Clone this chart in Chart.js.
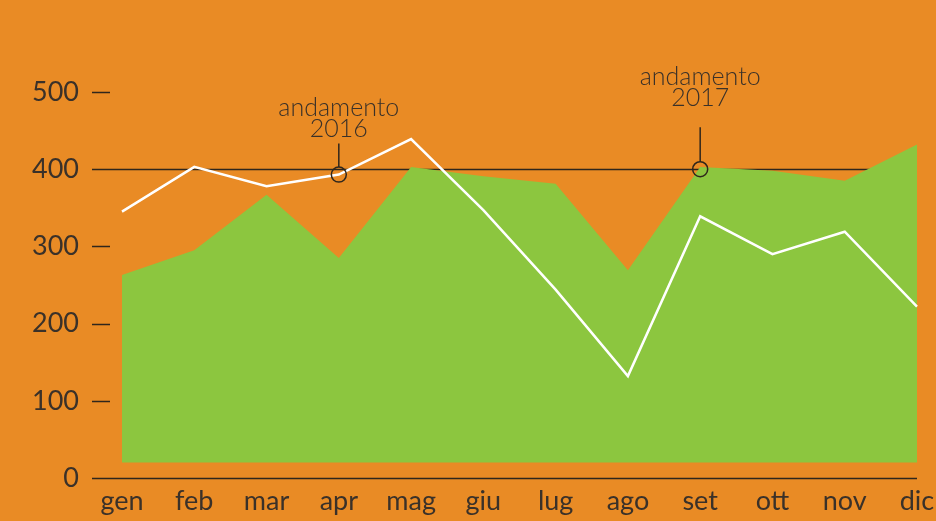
<!DOCTYPE html>
<html>
<head>
<meta charset="utf-8">
<script src="https://cdn.jsdelivr.net/npm/chart.js@4/dist/chart.umd.min.js"></script>
<style>
  html, body { margin: 0; padding: 0; background: #e98b25; }
  #wrap { width: 936px; height: 521px; }
</style>
</head>
<body>
<div id="wrap"><canvas id="andamentoChart" width="936" height="521"></canvas></div>
<script>
const months = ['gen', 'feb', 'mar', 'apr', 'mag', 'giu', 'lug', 'ago', 'set', 'ott', 'nov', 'dic'];
const values2017 = [263, 295, 367, 285, 403, 391, 381, 269, 403, 398, 385, 432];
const values2016 = [345, 403, 378, 393, 439, 347, 244, 132, 339, 290, 319, 222];
const yTicks = [0, 100, 200, 300, 400, 500];
const areaBase = 20;
const refLines = [0, 400];

const ink = '#2f261c';
const textColor = '#3a3129';
const fontFamily = 'Lato, "Open Sans", sans-serif';

// notes pinned to a point of the chart
const notes = [
    { lines: ['andamento', '2016'], month: 'apr', value: () => values2016[3], textUp: 38, stemUp: 31 },
    { lines: ['andamento', '2017'], month: 'set', value: () => 400, textUp: 63, stemUp: 42 }
];

const axisLines = {
    id: 'axisLines',
    beforeDatasetsDraw(chart) {
        const { ctx, chartArea, scales: { y } } = chart;
        const x0 = chartArea.left - 30;
        ctx.save();
        ctx.strokeStyle = ink;
        ctx.lineWidth = 1.5;
        yTicks.forEach(t => {
            const py = Math.round(y.getPixelForValue(t)) + 0.5;
            const x1 = refLines.includes(t) ? chartArea.right : x0 + 18;
            ctx.beginPath();
            ctx.moveTo(x0, py);
            ctx.lineTo(x1, py);
            ctx.stroke();
        });
        ctx.restore();
    }
};

const noteMarks = {
    id: 'noteMarks',
    afterDatasetsDraw(chart) {
        const { ctx, scales: { x, y } } = chart;
        ctx.save();
        ctx.strokeStyle = ink;
        ctx.fillStyle = textColor;
        ctx.lineWidth = 1.5;
        ctx.font = '300 25px ' + fontFamily;
        ctx.textAlign = 'center';
        ctx.textBaseline = 'alphabetic';
        notes.forEach(n => {
            const px = x.getPixelForValue(months.indexOf(n.month));
            const py = y.getPixelForValue(n.value());
            const r = 7.5;
            ctx.beginPath();
            ctx.arc(px, py, r, 0, Math.PI * 2);
            ctx.stroke();
            ctx.beginPath();
            ctx.moveTo(px, py - r);
            ctx.lineTo(px, py - n.stemUp);
            ctx.stroke();
            ctx.fillText(n.lines[0], px, py - n.textUp - 21);
            ctx.fillText(n.lines[1], px, py - n.textUp);
        });
        ctx.restore();
    }
};

new Chart(document.getElementById('andamentoChart'), {
    type: 'line',
    data: {
        labels: months,
        datasets: [
            {
                label: '2016',
                data: values2016,
                borderColor: '#ffffff',
                borderWidth: 2.5,
                pointRadius: 0,
                tension: 0,
                fill: false
            },
            {
                label: '2017',
                data: values2017,
                borderWidth: 0,
                borderColor: 'rgba(0,0,0,0)',
                backgroundColor: '#8cc63f',
                pointRadius: 0,
                tension: 0,
                fill: { value: areaBase }
            }
        ]
    },
    options: {
        responsive: false,
        animation: false,
        layout: { padding: { top: 92, right: 19, bottom: 0, left: 0 } },
        plugins: {
            legend: { display: false },
            tooltip: { enabled: false }
        },
        scales: {
            x: {
                offset: false,
                grid: { display: false, drawTicks: false },
                border: { display: false },
                ticks: {
                    color: textColor,
                    font: { family: fontFamily, size: 27 },
                    padding: 7,
                    maxRotation: 0,
                    autoSkip: false
                },
                afterFit(scale) {
                    scale.height = 43;
                    scale.paddingLeft = 0;
                    scale.paddingRight = 0;
                }
            },
            y: {
                min: 0,
                max: 500,
                grid: { display: false, drawTicks: false },
                border: { display: false },
                ticks: {
                    stepSize: 100,
                    color: textColor,
                    font: { family: fontFamily, size: 27 },
                    padding: 43
                },
                afterFit(scale) {
                    scale.width = 122;
                    scale.paddingTop = 0;
                    scale.paddingBottom = 0;
                }
            }
        }
    },
    plugins: [axisLines, noteMarks]
});
</script>
</body>
</html>
